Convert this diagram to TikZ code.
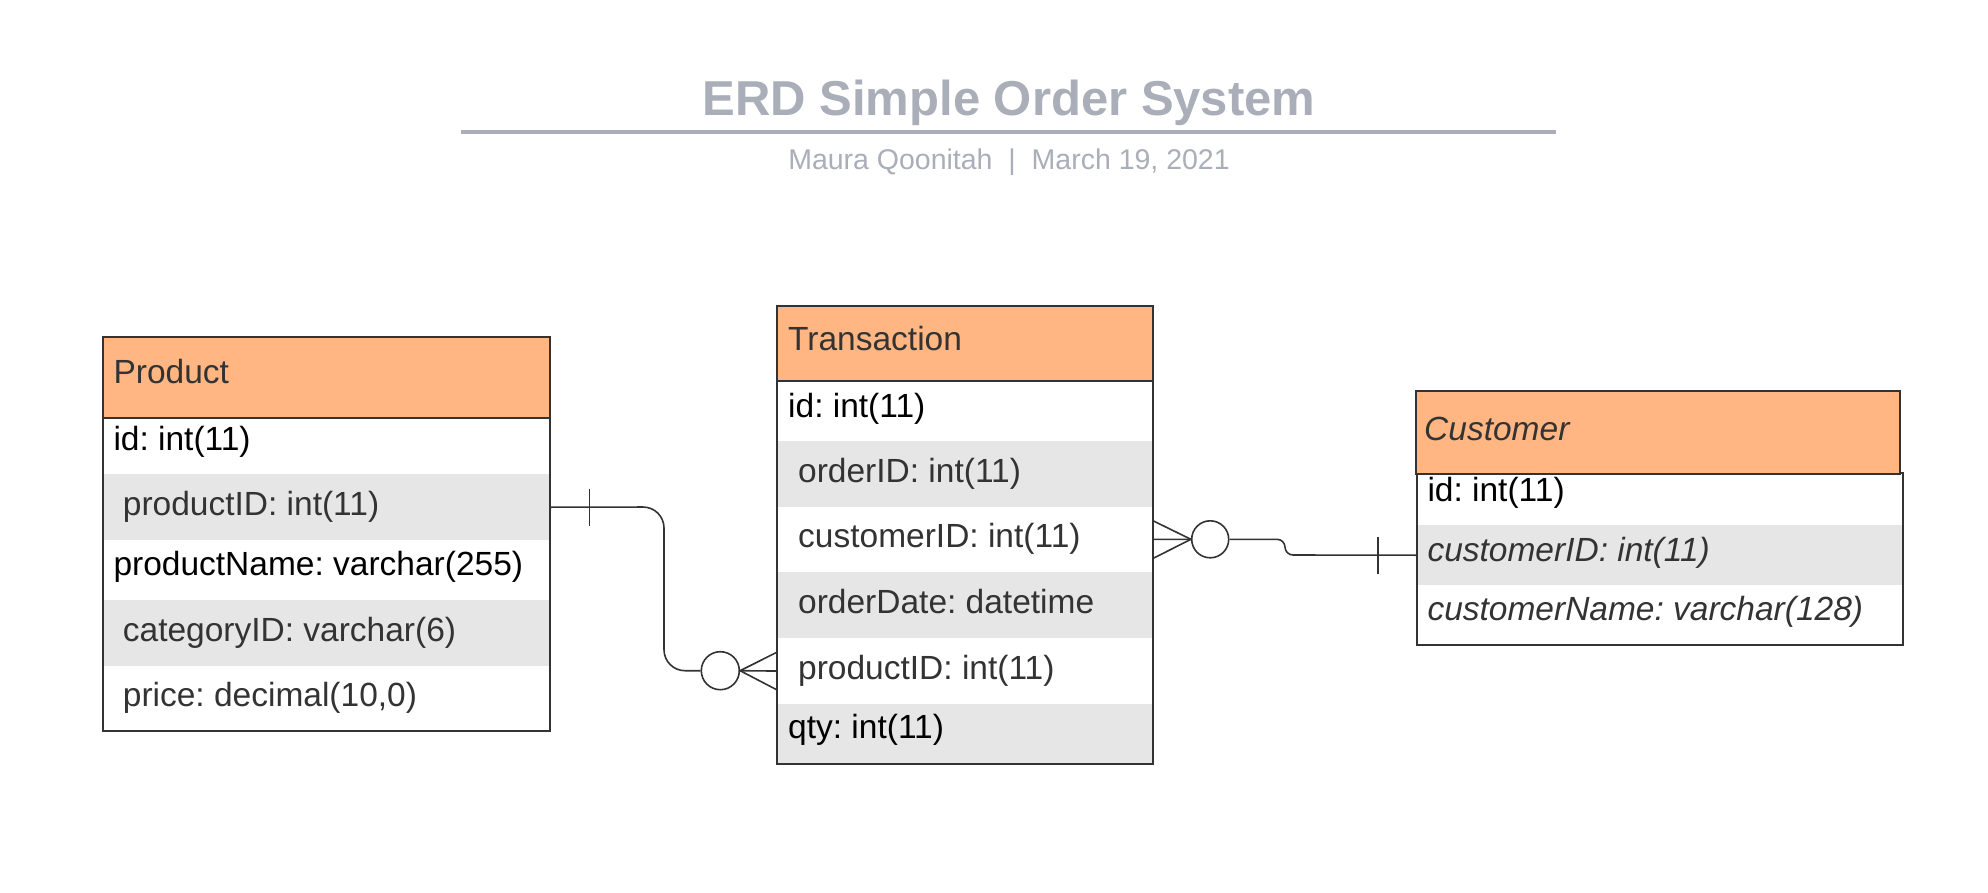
\documentclass[tikz,border=0pt]{standalone}
\usepackage{fontspec}
\setmainfont{Liberation Sans}
\usetikzlibrary{calc}
\definecolor{hdr}{HTML}{FFB682}
\definecolor{rowg}{HTML}{E6E6E6}
\definecolor{edge}{HTML}{333333}
\definecolor{ttl}{HTML}{A9AEB8}
\definecolor{txtg}{HTML}{333333}
\frenchspacing
\tikzset{
  rowbox/.style={draw=none, inner sep=0pt, anchor=north west, minimum height=#1},
  rowbox/.default=60pt,
  graybox/.style={rowbox=#1, fill=rowg},
  graybox/.default=60pt,
  ftxt/.style={anchor=base west, inner sep=0pt, font=\fontsize{33.5}{39}\selectfont, text=txtg},
  ktxt/.style={ftxt, text=black},
  itxt/.style={ftxt, font=\fontsize{33.5}{39}\selectfont\itshape},
  frame/.style={draw=edge, line width=2pt},
  link/.style={draw=edge, line width=1.6pt},
  ring/.style={circle, draw=edge, line width=1.6pt, fill=white, inner sep=0pt, minimum size=#1},
}
\begin{document}
\begin{tikzpicture}[x=1pt,y=-1pt]
\useasboundingbox[fill=white] (0,0) rectangle (1988,893);

% ---------- title ----------
\node[anchor=base, inner sep=0pt, text=ttl, font=\fontsize{49}{56}\selectfont\bfseries] (title) at (1009,116) {ERD Simple Order System};
\coordinate (tl) at (461,132);
\coordinate (tr) at (1556,132);
\draw[ttl, line width=4pt] (tl) -- (tr);
\node[anchor=base, inner sep=0pt, text=ttl, font=\fontsize{28.5}{34}\selectfont] (sub) at (1009,170) {Maura Qoonitah\ \ |\ \ March 19, 2021};

% ---------- Product ----------
\node[rowbox=80.7pt, minimum width=447.3pt, fill=hdr] (ph) at (102.7,337) {};
\node[rowbox=56.3pt, minimum width=447.3pt] (p1) at (102.7,417.7) {};
\node[graybox=66pt, minimum width=447.3pt] (p2) at (102.7,474) {};
\node[rowbox=60pt, minimum width=447.3pt] (p3) at (102.7,540) {};
\node[graybox=65.7pt, minimum width=447.3pt] (p4) at (102.7,600) {};
\node[rowbox=65pt, minimum width=447.3pt] (p5) at (102.7,665.7) {};
\draw[frame] (ph.north west) rectangle (p5.south east);
\draw[frame] (ph.south west) -- (ph.south east);
\node[ftxt] at (113.3,383.3) {Product};
\node[ktxt] at (113.3,450) {id: int(11)};
\node[ftxt] at (122.7,515) {productID: int(11)};
\node[ktxt] at (113.3,575) {productName: varchar(255)};
\node[ftxt] at (122.7,641.7) {categoryID: varchar(6)};
\node[ftxt] at (122.7,706.7) {price: decimal(10,0)};

% ---------- Transaction ----------
\node[rowbox=74.7pt, minimum width=375.4pt, fill=hdr] (th) at (777.3,306) {};
\node[rowbox=60.3pt, minimum width=375.4pt] (t1) at (777.3,380.7) {};
\node[graybox=65.7pt, minimum width=375.4pt] (t2) at (777.3,441) {};
\node[rowbox=65pt, minimum width=375.4pt] (t3) at (777.3,506.7) {};
\node[graybox=66pt, minimum width=375.4pt] (t4) at (777.3,571.7) {};
\node[rowbox=66.3pt, minimum width=375.4pt] (t5) at (777.3,637.7) {};
\node[graybox=59.3pt, minimum width=375.4pt] (t6) at (777.3,704) {};
\draw[frame] (th.north west) rectangle (t6.south east);
\draw[frame] (th.south west) -- (th.south east);
\node[ftxt] at (788,350.7) {Transaction};
\node[ktxt] at (788,417) {id: int(11)};
\node[ftxt] at (798,482.7) {orderID: int(11)};
\node[ftxt] at (798,547) {customerID: int(11)};
\node[ftxt] at (798,613) {orderDate: datetime};
\node[ftxt] at (798,679) {productID: int(11)};
\node[ktxt] at (788,738) {qty: int(11)};

% ---------- Customer ----------
\node[rowbox=51.7pt, minimum width=485.6pt] (k1) at (1416.7,473.3) {};
\node[graybox=60pt, minimum width=485.6pt] (k2) at (1416.7,525) {};
\node[rowbox=60pt, minimum width=485.6pt] (k3) at (1416.7,585) {};
\draw[frame] (k1.north west) rectangle (k3.south east);
\node[rowbox=83.3pt, minimum width=484pt, fill=hdr, draw=edge, line width=2pt] (kh) at (1415,389.5) {};
\node[itxt] at (1424,440) {Customer};
\node[ktxt] at (1427.3,501.7) {id: int(11)};
\node[itxt] at (1427.3,561.7) {customerID: int(11)};
\node[itxt] at (1427.3,620) {customerName: varchar(128)};

% ---------- Product -- Transaction ----------
\node[ring=38pt] (c1) at (720.3,670.7) {};
\draw[link, rounded corners=21pt] (p2.east) -- (664,507) -- (664,670.7) -- (c1.west);
\draw[link] ([xshift=39pt]p2.east) ++(0,-18.7) -- ++(0,37.4);
\draw[link] (c1.east) -- (t5.west);
\draw[link] (c1.east) -- ([yshift=19pt]t5.west);
\draw[link] (c1.east) -- ([yshift=-19pt]t5.west);

% ---------- Transaction -- Customer ----------
\node[ring=37pt] (c2) at (1210.2,539.3) {};
\draw[link] (c2.west) -- (t3.east);
\draw[link] (c2.west) -- ([yshift=18.6pt]t3.east);
\draw[link] (c2.west) -- ([yshift=-19pt]t3.east);
\draw[link, rounded corners=8pt] (c2.east) -- (1285,539.3) -- (1285,555) -- (k2.west);
\draw[link] ([xshift=-39pt]k2.west) ++(0,-18.7) -- ++(0,37.4);
\end{tikzpicture}
\end{document}
